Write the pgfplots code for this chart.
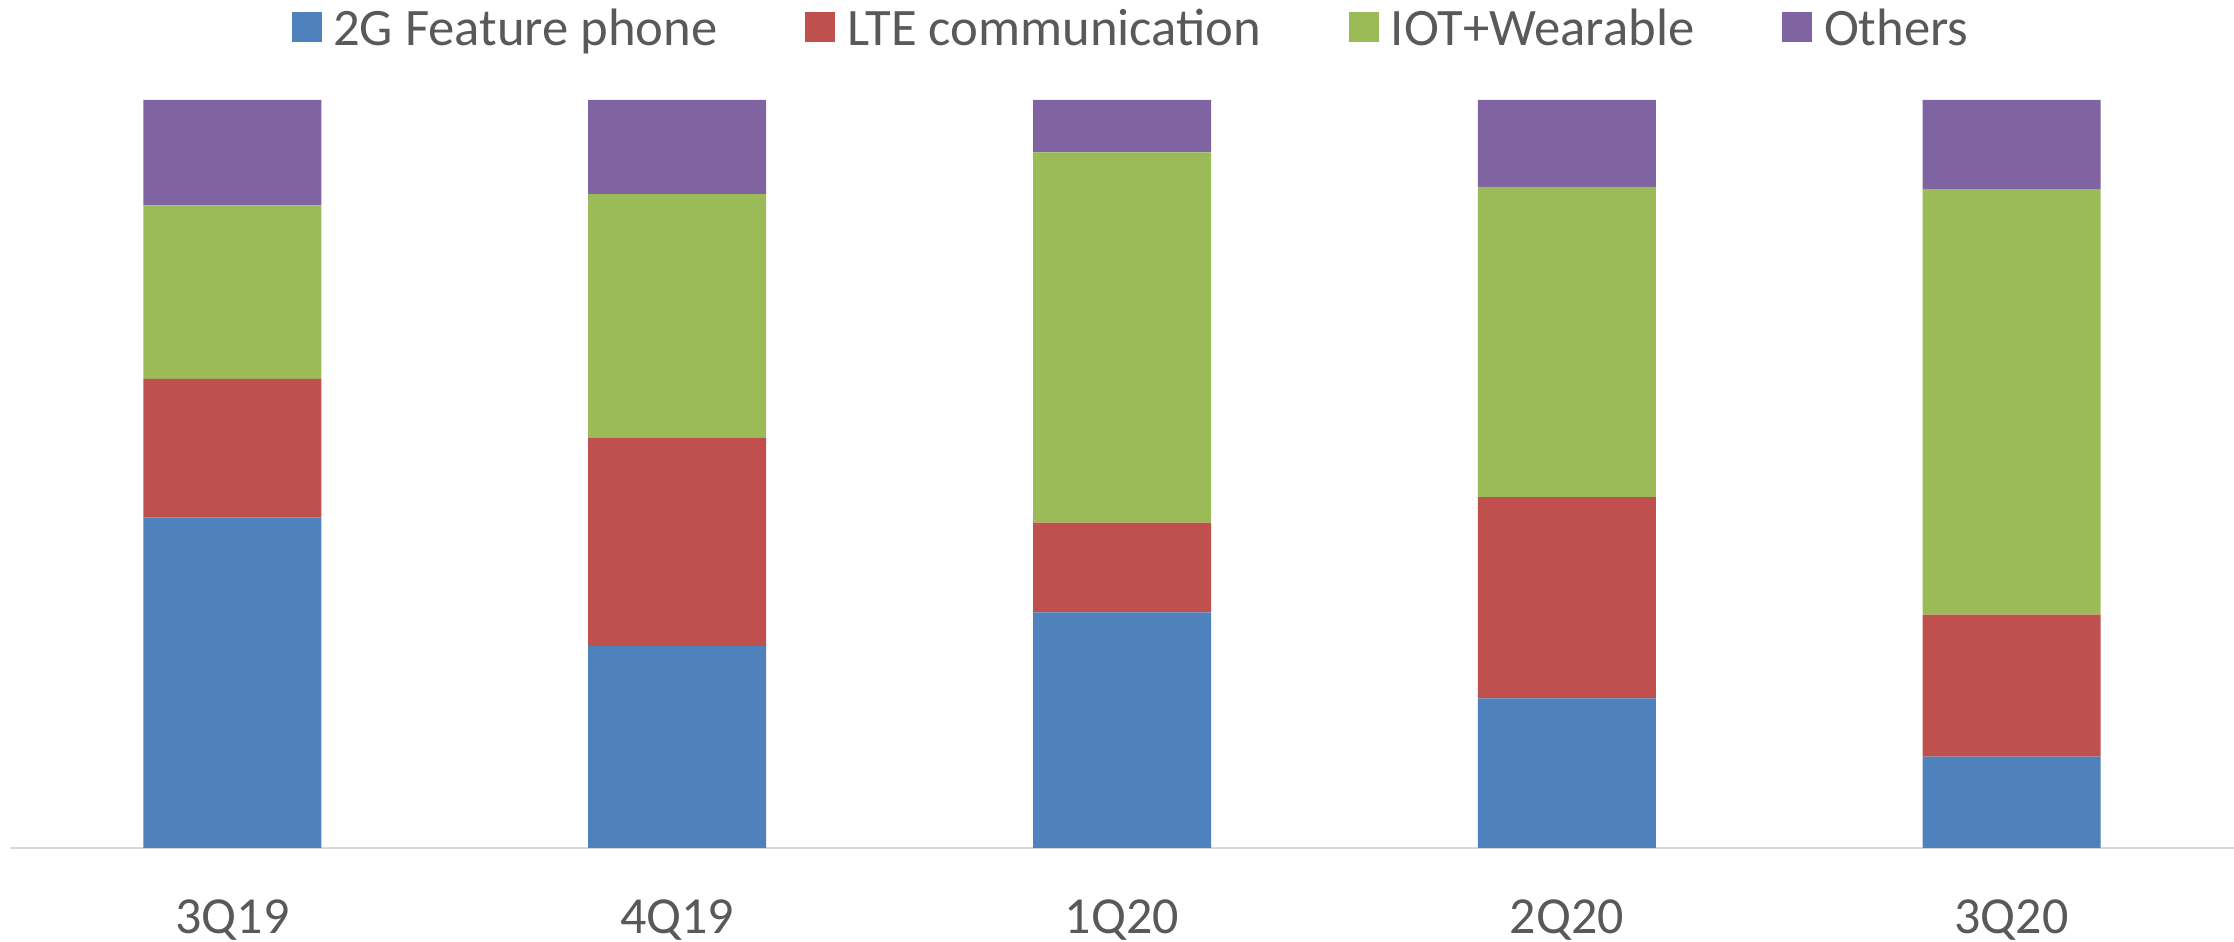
\documentclass[border=0pt]{standalone}
\usepackage{pgfplots}
\pgfplotsset{compat=1.18}
\usepackage{fontspec}
\setmainfont{Carlito}
\definecolor{cblue}{HTML}{4F81BD}
\definecolor{cred}{HTML}{C0504D}
\definecolor{cgreen}{HTML}{9BBB59}
\definecolor{cpurple}{HTML}{8064A2}
\definecolor{ctext}{HTML}{595959}
\definecolor{caxis}{HTML}{D9D9D9}
\begin{document}
\begin{tikzpicture}
\useasboundingbox (-3pt,-28.2pt) rectangle (667.2pt,254.4pt);
\begin{axis}[
  at={(0,0)}, anchor=south west,
  scale only axis,
  width=667.2pt, height=224.4pt,
  ybar stacked,
  bar width=53.4pt,
  ymin=0, ymax=100,
  xmin=-0.5, xmax=4.5,
  xtick={0,1,2,3,4},
  xticklabels={3Q19,4Q19,1Q20,2Q20,3Q20},
  major tick length=0pt,
  axis y line=none,
  axis x line*=bottom,
  x axis line style={draw=caxis, line width=0.7pt, -},
  xticklabel style={anchor=base, yshift=-25.8pt, font=\fontsize{15.6}{18}\selectfont, text=ctext},
  legend style={at={(0.5036,1.0936)}, anchor=center, draw=none, fill=none,
    legend columns=4, font=\fontsize{15.8}{18}\selectfont, text=ctext,
    nodes={inner xsep=0pt, inner ysep=1pt},
    /tikz/every odd column/.append style={column sep=3.5pt},
    /tikz/every even column/.append style={column sep=26.4pt}},
  legend image code/.code={\fill[#1] (0pt,-3.7pt) rectangle (9pt,5.3pt);},
  legend cell align=left,
]
\addplot+[fill=cblue, draw=none] coordinates {(0,44.2) (1,27.0) (2,31.5) (3,20.0) (4,12.2)};
\addlegendentry{2G Feature phone}
\addplot+[fill=cred, draw=none] coordinates {(0,18.5) (1,27.8) (2,12.0) (3,26.9) (4,19.0)};
\addlegendentry{LTE communication}
\addplot+[fill=cgreen, draw=none] coordinates {(0,23.2) (1,32.6) (2,49.5) (3,41.5) (4,56.8)};
\addlegendentry{IOT+Wearable}
\addplot+[fill=cpurple, draw=none] coordinates {(0,14.1) (1,12.6) (2,7.0) (3,11.6) (4,12.0)};
\addlegendentry{Others}
\end{axis}
\end{tikzpicture}
\end{document}
